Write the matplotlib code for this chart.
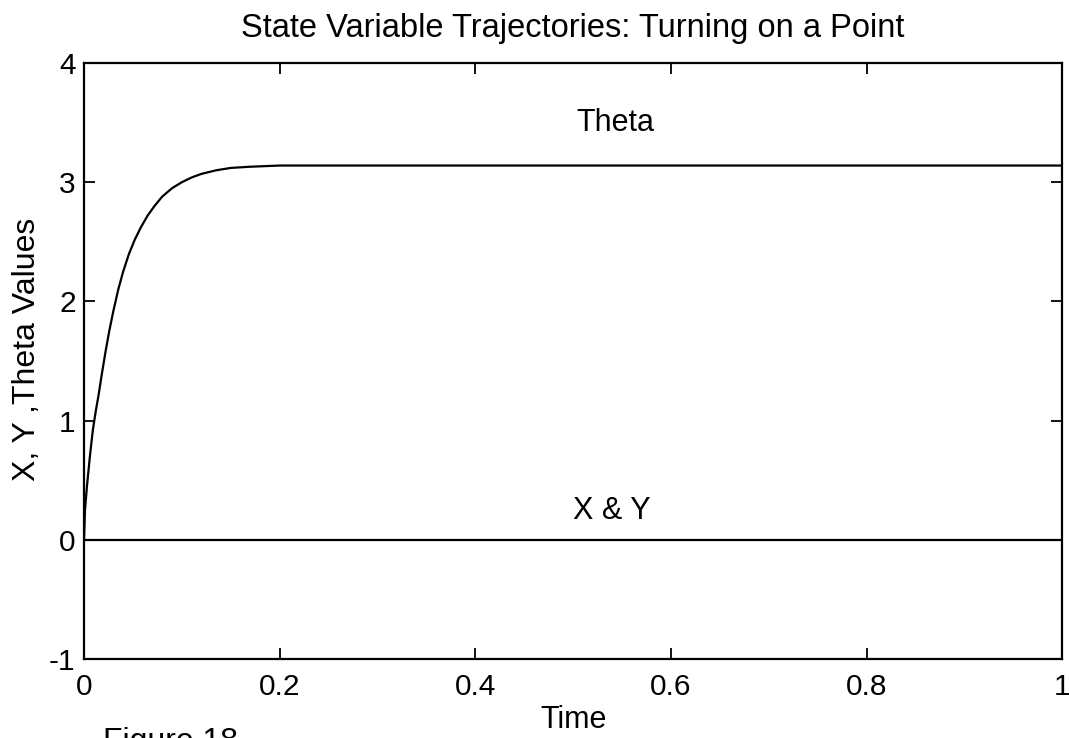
import matplotlib.pyplot as plt

plt.rcParams['font.family'] = ['Liberation Sans', 'DejaVu Sans']

# trajectory
time = [0, 0.001, 0.003, 0.006, 0.009, 0.012, 0.015, 0.018, 0.022, 0.026,
        0.03, 0.035, 0.04, 0.046, 0.052, 0.058, 0.065, 0.072, 0.08, 0.09,
        0.1, 0.11, 0.12, 0.135, 0.15, 0.17, 0.2, 0.25, 0.3, 0.5, 1.0]
theta = [0, 0.25, 0.45, 0.7, 0.92, 1.08, 1.22, 1.38, 1.58, 1.76,
         1.92, 2.1, 2.25, 2.4, 2.52, 2.62, 2.72, 2.8, 2.88, 2.95,
         3.0, 3.04, 3.07, 3.1, 3.12, 3.13, 3.14, 3.14, 3.14, 3.14, 3.14]
xy_time = [0, 1]
xy_vals = [0, 0]

xticks = [0, 0.2, 0.4, 0.6, 0.8, 1]
xticklabels = ['0', '0.2', '0.4', '0.6', '0.8', '1']
yticks = [-1, 0, 1, 2, 3, 4]
yticklabels = ['-1', '0', '1', '2', '3', '4']

fig = plt.figure(figsize=(10.69, 7.38), dpi=100)
ax = fig.add_axes([0.0786, 0.107, 0.915, 0.8076])

ax.plot(time, theta, color='black', lw=1.6)
ax.plot(xy_time, xy_vals, color='black', lw=1.6)

ax.set_xlim(0, 1)
ax.set_ylim(-1, 4)
ax.set_xticks(xticks)
ax.set_xticklabels(xticklabels)
ax.set_yticks(yticks)
ax.set_yticklabels(yticklabels)
ax.tick_params(direction='in', length=8, width=1.3, labelsize=21.5,
               top=True, right=True)
ax.tick_params(axis='x', pad=10)
ax.tick_params(axis='y', pad=6)
for s in ax.spines.values():
    s.set_linewidth(1.6)

ax.text(0.543, 3.5, 'Theta', fontsize=22, ha='center', va='center')
ax.text(0.54, 0.24, 'X & Y', fontsize=22, ha='center', va='center')

ax.set_title('State Variable Trajectories: Turning on a Point', fontsize=23.5, pad=19)
ax.set_xlabel('Time', fontsize=22, labelpad=3)
ax.set_ylabel('X, Y ,Theta Values', fontsize=23)
ax.yaxis.set_label_coords(-0.043, 0.52)

fig.text(0.096, -0.0163, 'Figure 18', fontsize=23, ha='left', va='baseline')

fig.savefig('out.png', dpi=100)
